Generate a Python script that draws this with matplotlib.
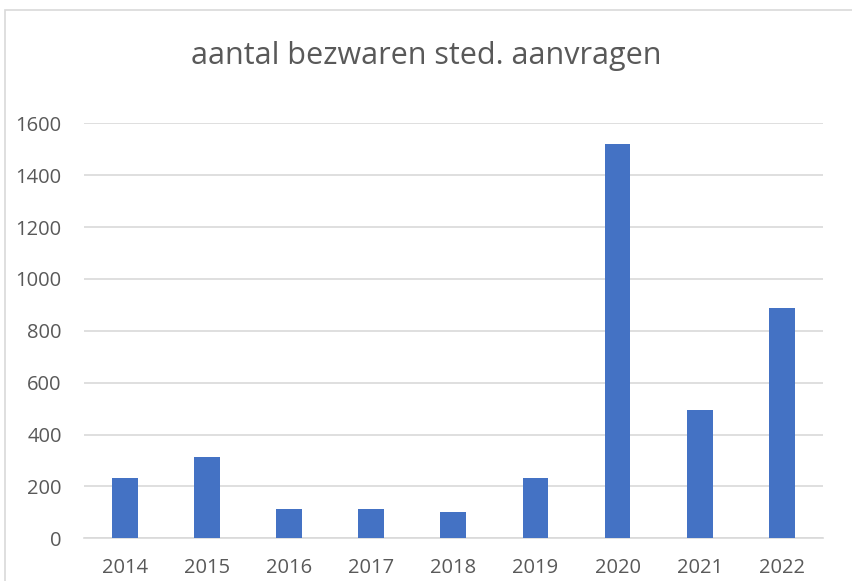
import matplotlib.pyplot as plt
from matplotlib.patches import Rectangle

years = ["2014", "2015", "2016", "2017", "2018", "2019", "2020", "2021", "2022"]
bezwaren = [234, 312, 112, 112, 102, 232, 1520, 495, 889]
y_ticks = [0, 200, 400, 600, 800, 1000, 1200, 1400, 1600]

plt.rcParams['font.family'] = ['Open Sans', 'DejaVu Sans']
txt_color = "#595959"

fig = plt.figure(figsize=(8.52, 5.81), dpi=100)
ax = fig.add_axes([84 / 852, 1 - 538.3 / 581, (822.7 - 84) / 852, (538.3 - 123.3) / 581])

ax.bar(range(len(years)), bezwaren, width=0.315, color="#4472C4", zorder=3)

ax.set_xlim(-0.5, len(years) - 0.5)
ax.set_ylim(0, 1600)
ax.set_yticks(y_ticks)
ax.set_xticks(range(len(years)))
ax.set_xticklabels(years)
ax.grid(axis="y", color="#d9d9d9", linewidth=1.2, zorder=0)
ax.tick_params(length=0, labelsize=14.5, colors=txt_color)
ax.tick_params(axis="y", pad=16)
ax.tick_params(axis="x", pad=14)
for s in ["top", "right", "left"]:
    ax.spines[s].set_visible(False)
ax.spines["bottom"].set_color("#d9d9d9")
ax.spines["bottom"].set_linewidth(1.2)

fig.text(0.5, 1 - 56 / 581, "aantal bezwaren sted. aanvragen", ha="center", va="center",
         fontsize=22, color=txt_color)

# chart border
fig.add_artist(Rectangle((5 / 852, -0.1), 1.2, 1 - 10 / 581 + 0.1, transform=fig.transFigure,
                         fill=False, edgecolor="#d9d9d9", linewidth=1.2))

fig.savefig("out.png", dpi=100)
